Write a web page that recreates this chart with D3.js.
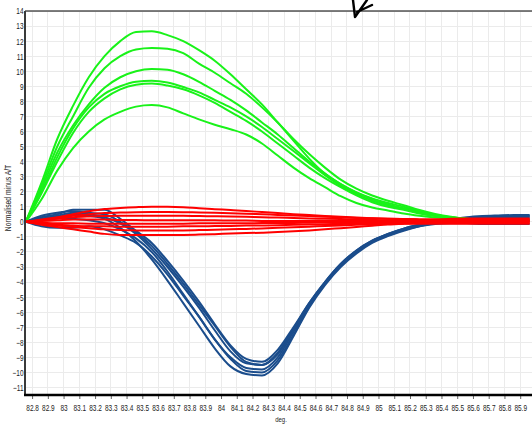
<!DOCTYPE html>
<html>
<head>
<meta charset="utf-8">
<script src="https://cdn.jsdelivr.net/npm/d3@7"></script>
<style>
  html, body { margin: 0; padding: 0; background: #fff; }
  svg { display: block; }
  text { font-family: "Liberation Sans Narrow", "Liberation Sans", Arial, sans-serif; fill: #222; }
</style>
</head>
<body>
<svg id="chart" width="532" height="425"></svg>
<script>
// ---------- data ----------
const temps = [82.76,82.86,82.96,83.06,83.16,83.26,83.36,83.46,83.56,83.66,83.76,83.86,83.96,84.06,84.16,84.26,84.36,84.46,84.56,84.66,84.76,84.86,84.96,85.06,85.16,85.26,85.36,85.46,85.56,85.66,85.76,85.86,85.96];

const green1 = [0,2.6,5.5,7.7,9.6,11.0,12.0,12.6,12.65,12.4,12.0,11.4,10.7,9.8,8.8,7.8,6.6,5.4,4.2,3.2,2.5,1.95,1.55,1.25,1.0,0.7,0.45,0.3,0.18,0.12,0.1,0.1,0.1];
const green2 = [0,2.4,5.0,7.0,8.9,10.2,11.0,11.45,11.55,11.5,11.2,10.5,9.9,9.2,8.5,7.6,6.6,5.5,4.5,3.6,2.8,2.2,1.75,1.4,1.1,0.78,0.52,0.33,0.2,0.14,0.12,0.1,0.1];
const green3 = [0,2.2,4.6,6.4,7.8,8.9,9.6,10.0,10.15,10.1,9.8,9.3,8.7,8.1,7.4,6.6,5.8,4.9,4.0,3.2,2.5,1.95,1.5,1.15,0.9,0.65,0.45,0.3,0.2,0.14,0.1,0.1,0.1];
const green4 = [0,2.0,4.3,6.2,7.6,8.5,9.0,9.3,9.37,9.25,8.95,8.6,8.1,7.6,7.0,6.3,5.5,4.7,3.9,3.1,2.4,1.85,1.4,1.1,0.85,0.6,0.4,0.28,0.18,0.12,0.1,0.1,0.1];
const green5 = [0,1.9,4.0,5.9,7.3,8.2,8.8,9.1,9.18,9.05,8.8,8.4,7.9,7.3,6.7,6.0,5.2,4.4,3.6,2.9,2.3,1.75,1.3,1.0,0.8,0.55,0.38,0.25,0.15,0.1,0.1,0.1,0.1];
const green6 = [0,1.5,3.4,4.9,6.0,6.8,7.3,7.65,7.75,7.6,7.2,6.8,6.45,6.15,5.8,5.2,4.4,3.6,2.9,2.3,1.7,1.25,0.95,0.75,0.55,0.4,0.28,0.2,0.12,0.1,0.1,0.1,0.1];

const blue1 = [0,0.3,0.5,0.8,0.8,0.8,0.2,-0.6,-1.4,-2.6,-3.9,-5.3,-6.8,-8.2,-9.1,-9.3,-8.5,-7.0,-5.4,-4.0,-2.8,-1.9,-1.25,-0.8,-0.45,-0.2,0.0,0.15,0.25,0.3,0.35,0.38,0.4];
const blue2 = [0,0.2,0.4,0.6,0.5,0.3,-0.1,-0.8,-1.8,-3.0,-4.3,-5.7,-7.2,-8.6,-9.4,-9.5,-8.7,-7.1,-5.4,-4.0,-2.8,-1.9,-1.25,-0.8,-0.45,-0.2,0.0,0.12,0.2,0.25,0.28,0.3,0.3];
const blue3 = [0,-0.3,-0.4,-0.4,-0.3,-0.5,-0.9,-1.4,-2.3,-3.5,-4.9,-6.3,-7.8,-9.0,-9.7,-9.8,-9.0,-7.3,-5.5,-4.1,-2.9,-2.0,-1.3,-0.85,-0.5,-0.25,-0.05,0.1,0.2,0.25,0.3,0.32,0.35];
const blue4 = [0,0.2,0.3,0.2,0.1,-0.1,-0.5,-1.1,-2.0,-3.3,-4.8,-6.3,-7.8,-9.1,-9.9,-10.0,-9.2,-7.5,-5.6,-4.1,-2.9,-2.0,-1.35,-0.9,-0.55,-0.3,-0.15,-0.1,-0.1,-0.15,-0.15,-0.15,-0.15];
const blue5 = [0,0.1,0.3,0.5,0.4,0.2,-0.4,-1.3,-2.5,-3.9,-5.4,-6.9,-8.4,-9.6,-10.1,-10.2,-9.4,-7.6,-5.7,-4.2,-3.0,-2.1,-1.4,-0.95,-0.6,-0.3,-0.1,0.05,0.1,0.15,0.2,0.2,0.2];
const blue6 = [0,0.4,0.6,0.7,0.6,0.5,0.0,-0.7,-1.6,-2.8,-4.1,-5.5,-6.9,-8.3,-9.3,-9.5,-8.8,-7.2,-5.5,-4.1,-2.85,-1.95,-1.3,-0.85,-0.5,-0.22,0.0,0.15,0.3,0.38,0.42,0.45,0.45];

const red1 = [0,0.15,0.3,0.5,0.7,0.85,0.92,0.97,1.0,1.0,0.97,0.9,0.84,0.78,0.72,0.65,0.58,0.51,0.45,0.39,0.33,0.28,0.24,0.21,0.18,0.16,0.15,0.15,0.15,0.15,0.15,0.15,0.15];
const red2 = [0,0.1,0.25,0.4,0.5,0.58,0.62,0.64,0.65,0.65,0.64,0.62,0.6,0.57,0.54,0.5,0.46,0.42,0.38,0.34,0.3,0.26,0.23,0.2,0.18,0.16,0.15,0.2,0.22,0.22,0.22,0.22,0.22];
const red3 = [0,0.1,0.2,0.3,0.35,0.38,0.4,0.4,0.4,0.4,0.4,0.38,0.37,0.35,0.33,0.3,0.28,0.25,0.22,0.2,0.18,0.15,0.12,0.1,0.1,0.1,0.1,0.1,0.1,0.1,0.1,0.1,0.1];
const red4 = [0,0.05,0.1,0.15,0.15,0.15,0.12,0.12,0.1,0.1,0.1,0.1,0.1,0.08,0.08,0.06,0.06,0.05,0.05,0.05,0.05,0.05,0.05,0.05,0.05,0.05,0.05,0.05,0.05,0.05,0.05,0.05,0.05];
const red5 = [0,-0.05,-0.1,-0.1,-0.12,-0.12,-0.12,-0.12,-0.12,-0.12,-0.12,-0.1,-0.1,-0.1,-0.1,-0.08,-0.08,-0.08,-0.06,-0.05,-0.05,-0.04,-0.03,-0.02,0,0,0,0,0,0,0,0,0];
const red6 = [0,-0.1,-0.2,-0.25,-0.3,-0.3,-0.32,-0.32,-0.32,-0.32,-0.3,-0.3,-0.28,-0.27,-0.25,-0.24,-0.22,-0.2,-0.18,-0.16,-0.14,-0.12,-0.1,-0.08,-0.08,-0.08,-0.08,-0.08,-0.08,-0.08,-0.08,-0.08,-0.08];
const red7 = [0,-0.15,-0.25,-0.35,-0.42,-0.5,-0.55,-0.57,-0.58,-0.58,-0.57,-0.55,-0.52,-0.5,-0.47,-0.44,-0.4,-0.36,-0.32,-0.28,-0.24,-0.2,-0.17,-0.14,-0.12,-0.12,-0.12,-0.12,-0.12,-0.12,-0.12,-0.12,-0.12];
const red8 = [0,-0.2,-0.35,-0.5,-0.65,-0.8,-0.87,-0.88,-0.88,-0.88,-0.87,-0.85,-0.82,-0.78,-0.75,-0.72,-0.68,-0.63,-0.57,-0.5,-0.42,-0.34,-0.26,-0.18,-0.12,-0.07,-0.04,-0.02,0,0,0,0,0];

const xTicks = [82.8,82.9,83.0,83.1,83.2,83.3,83.4,83.5,83.6,83.7,83.8,83.9,84.0,84.1,84.2,84.3,84.4,84.5,84.6,84.7,84.8,84.9,85.0,85.1,85.2,85.3,85.4,85.5,85.6,85.7,85.8,85.9];
const xTickLabels = ["82.8","82.9","83","83.1","83.2","83.3","83.4","83.5","83.6","83.7","83.8","83.9","84","84.1","84.2","84.3","84.4","84.5","84.6","84.7","84.8","84.9","85","85.1","85.2","85.3","85.4","85.5","85.6","85.7","85.8","85.9"];
const yTicks = [-11,-10,-9,-8,-7,-6,-5,-4,-3,-2,-1,0,1,2,3,4,5,6,7,8,9,10,11,12,13,14];
const yTitle = "Normalised minus A/T";
const xTitle = "deg.";

const blueSeries = [blue1, blue2, blue3, blue4, blue5, blue6];
const greenSeries = [green1, green2, green3, green4, green5, green6];
const redSeries = [red1, red2, red3, red4, red5, red6, red7, red8];

// ---------- layout ----------
const svg = d3.select("#chart");
const L = 25, R = 532, T = 11, B = 395;
const x = d3.scaleLinear().domain([82.755, 85.975]).range([L, R]);
const y = d3.scaleLinear().domain([-11.5, 14]).range([B, T]);

svg.append("defs").append("clipPath").attr("id", "clip")
  .append("rect").attr("x", L).attr("y", T).attr("width", R - L).attr("height", B - T);

// grid
const grid = svg.append("g");
grid.selectAll("line.v").data(xTicks).join("line")
  .attr("x1", d => x(d)).attr("x2", d => x(d)).attr("y1", T).attr("y2", B)
  .attr("stroke", "#ebebeb").attr("stroke-width", 1).attr("shape-rendering", "crispEdges");
grid.selectAll("line.h").data(yTicks).join("line")
  .attr("x1", L).attr("x2", R).attr("y1", d => y(d)).attr("y2", d => y(d))
  .attr("stroke", "#ebebeb").attr("stroke-width", 1).attr("shape-rendering", "crispEdges");

// lines
const line = d3.line().x((d, i) => x(temps[i])).y(d => y(d)).curve(d3.curveMonotoneX);
const plot = svg.append("g").attr("clip-path", "url(#clip)");
function drawGroup(series, color) {
  plot.append("g").selectAll("path").data(series).join("path")
    .attr("d", line).attr("fill", "none").attr("stroke", color)
    .attr("stroke-width", 2).attr("stroke-linejoin", "round");
}
drawGroup(blueSeries, "#1b4d8c");
drawGroup(greenSeries, "#19f219");
drawGroup(redSeries, "#ff0000");

// axes
const xAxis = d3.axisBottom(x).tickValues(xTicks)
  .tickFormat((d, i) => xTickLabels[i]).tickSize(4).tickPadding(6);
const gx = svg.append("g").attr("transform", `translate(0,${B})`).call(xAxis);
gx.select(".domain").remove();
gx.selectAll(".tick line").attr("stroke", "#666");
gx.selectAll(".tick text").attr("font-size", 9).attr("fill", "#222")
  .attr("font-family", "'Liberation Sans Narrow', 'Liberation Sans', sans-serif")
  .attr("transform", "scale(0.72,1)");

const yAxis = d3.axisLeft(y).tickValues(yTicks).tickSize(0).tickPadding(2);
const gy = svg.append("g").attr("transform", `translate(${L},0)`).call(yAxis);
gy.select(".domain").remove();
gy.selectAll(".tick text").attr("font-size", 9).attr("fill", "#222")
  .attr("font-family", "'Liberation Sans Narrow', 'Liberation Sans', sans-serif")
  .attr("transform", "scale(0.72,1)");

// frame lines
svg.append("line").attr("x1", L).attr("x2", R).attr("y1", T).attr("y2", T)
  .attr("stroke", "#000").attr("stroke-width", 1.2);
svg.append("line").attr("x1", L).attr("x2", L).attr("y1", T).attr("y2", B + 1)
  .attr("stroke", "#3a3a3a").attr("stroke-width", 2);
svg.append("line").attr("x1", L - 1).attr("x2", R).attr("y1", B).attr("y2", B)
  .attr("stroke", "#000").attr("stroke-width", 2.5);

// titles
svg.append("text").attr("transform", "translate(11,198) rotate(-90) scale(0.8,1)")
  .attr("text-anchor", "middle").attr("font-size", 8.5).attr("fill", "#333")
  .text(yTitle);
svg.append("text").attr("transform", "translate(281,422) scale(0.8,1)")
  .attr("text-anchor", "middle").attr("font-size", 7.5).attr("fill", "#333")
  .text(xTitle);

// hand-drawn arrow annotation
svg.append("path")
  .attr("d", "M353,0 L355,17 L367,0 M357,12 L372,5")
  .attr("fill", "none").attr("stroke", "#000").attr("stroke-width", 2.4)
  .attr("stroke-linecap", "round").attr("stroke-linejoin", "round");
</script>
</body>
</html>
